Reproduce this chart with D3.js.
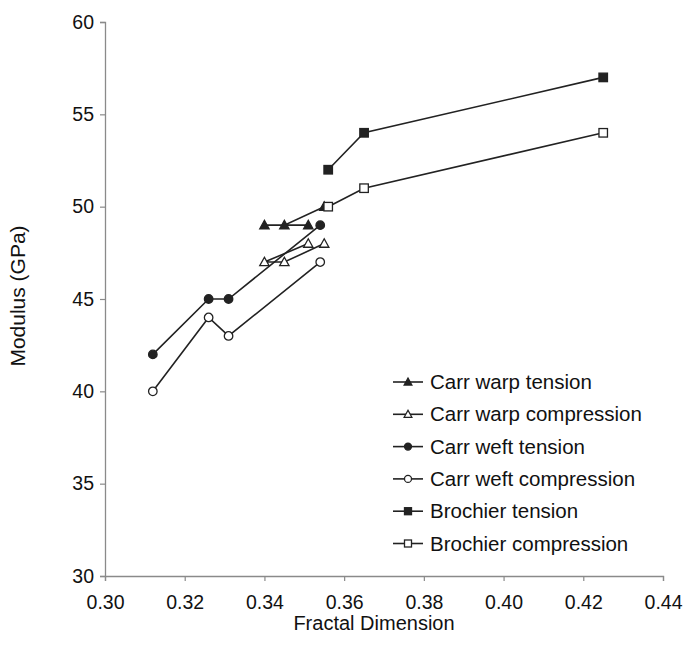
<!DOCTYPE html>
<html>
<head>
<meta charset="utf-8">
<script src="https://cdn.jsdelivr.net/npm/d3@7"></script>
<style>
  body { margin: 0; background: #fff; }
  svg text { font-family: "Liberation Sans", Arial, sans-serif; fill: #111; }
</style>
</head>
<body>
<div id="chart"></div>
<script>
// Data
const xWarp = [0.351, 0.340, 0.345, 0.355];
const warpTension = [49, 49, 49, 50];
const warpCompression = [48, 47, 47, 48];

const xWeft = [0.312, 0.326, 0.331, 0.354];
const weftTension = [42, 45, 45, 49];
const weftCompression = [40, 44, 43, 47];

const xBrochier = [0.356, 0.365, 0.425];
const brochierTension = [52, 54, 57];
const brochierCompression = [50, 51, 54];

const xTicks = [0.30, 0.32, 0.34, 0.36, 0.38, 0.40, 0.42, 0.44];
const yTicks = [30, 35, 40, 45, 50, 55, 60];

const seriesNames = [
    "Carr warp tension", "Carr warp compression",
    "Carr weft tension", "Carr weft compression",
    "Brochier tension", "Brochier compression"
];

// Series table built from the arrays above
const series = [
    { name: seriesNames[0], x: xWarp, y: warpTension, shape: "triangle", filled: true },
    { name: seriesNames[1], x: xWarp, y: warpCompression, shape: "triangle", filled: false },
    { name: seriesNames[2], x: xWeft, y: weftTension, shape: "circle", filled: true },
    { name: seriesNames[3], x: xWeft, y: weftCompression, shape: "circle", filled: false },
    { name: seriesNames[4], x: xBrochier, y: brochierTension, shape: "square", filled: true },
    { name: seriesNames[5], x: xBrochier, y: brochierCompression, shape: "square", filled: false }
];

const width = 685, height = 666;
const margin = { left: 105, right: 22, top: 22, bottom: 90 };

const svg = d3.select("#chart").append("svg")
    .attr("width", width)
    .attr("height", height);

const x = d3.scaleLinear().domain([0.30, 0.44]).range([margin.left, width - margin.right]);
const y = d3.scaleLinear().domain([30, 60]).range([height - margin.bottom, margin.top]);

const axisColor = "#8a8a8a";
const ink = "#222";

// Axes
const xAxis = svg.append("g")
    .attr("transform", `translate(0,${y(30)})`)
    .call(d3.axisBottom(x).tickValues(xTicks).tickFormat(d3.format(".2f")).tickSize(5).tickPadding(14));
const yAxis = svg.append("g")
    .attr("transform", `translate(${x(0.30)},0)`)
    .call(d3.axisLeft(y).tickValues(yTicks).tickSize(5).tickPadding(6));

[xAxis, yAxis].forEach(g => {
    g.select(".domain").attr("stroke", axisColor).attr("stroke-width", 1.3);
    g.selectAll(".tick line").attr("stroke", axisColor).attr("stroke-width", 1.2);
    g.selectAll(".tick text")
        .style("font-family", "'Liberation Sans', Arial, sans-serif")
        .style("font-size", "19.5px")
        .attr("fill", "#111");
});

// Axis titles
svg.append("text")
    .attr("x", 374).attr("y", 630)
    .attr("text-anchor", "middle")
    .style("font-size", "20px")
    .text("Fractal Dimension");

svg.append("text")
    .attr("transform", "translate(25,296) rotate(-90)")
    .attr("text-anchor", "middle")
    .style("font-size", "21px")
    .text("Modulus (GPa)");

// Marker drawing
function drawMarker(sel, shape, filled, size) {
    const fill = filled ? ink : "#fff";
    if (shape === "circle") {
        sel.append("circle").attr("r", size * 0.5)
            .attr("fill", fill).attr("stroke", ink).attr("stroke-width", 1.3);
    } else if (shape === "square") {
        sel.append("rect")
            .attr("x", -size / 2).attr("y", -size / 2)
            .attr("width", size).attr("height", size)
            .attr("fill", fill).attr("stroke", ink).attr("stroke-width", 1.3);
    } else {
        const h = size * 0.95;
        sel.append("path")
            .attr("d", `M0,${-h * 0.6}L${size * 0.55},${h * 0.45}L${-size * 0.55},${h * 0.45}Z`)
            .attr("fill", fill).attr("stroke", ink).attr("stroke-width", 1.3);
    }
}

const line = d3.line().x(d => x(d[0])).y(d => y(d[1]));

series.forEach(s => {
    const pts = s.x.map((v, i) => [v, s.y[i]]);
    svg.append("path")
        .datum(pts)
        .attr("d", line)
        .attr("fill", "none")
        .attr("stroke", ink)
        .attr("stroke-width", 1.6);
    svg.append("g").selectAll("g")
        .data(pts)
        .join("g")
        .attr("transform", d => `translate(${x(d[0])},${y(d[1])})`)
        .each(function () { drawMarker(d3.select(this), s.shape, s.filled, 8.5); });
});

// Legend
const legend = svg.append("g").attr("transform", "translate(393,382)");
series.forEach((s, i) => {
    const row = legend.append("g").attr("transform", `translate(0,${i * 32.3})`);
    row.append("line")
        .attr("x1", 0).attr("x2", 30)
        .attr("stroke", ink).attr("stroke-width", 1.6);
    drawMarker(row.append("g").attr("transform", "translate(15,0)"), s.shape, s.filled, 7);
    row.append("text")
        .attr("x", 37).attr("dy", "0.35em")
        .style("font-size", "20.5px")
        .text(s.name);
});
</script>
</body>
</html>
